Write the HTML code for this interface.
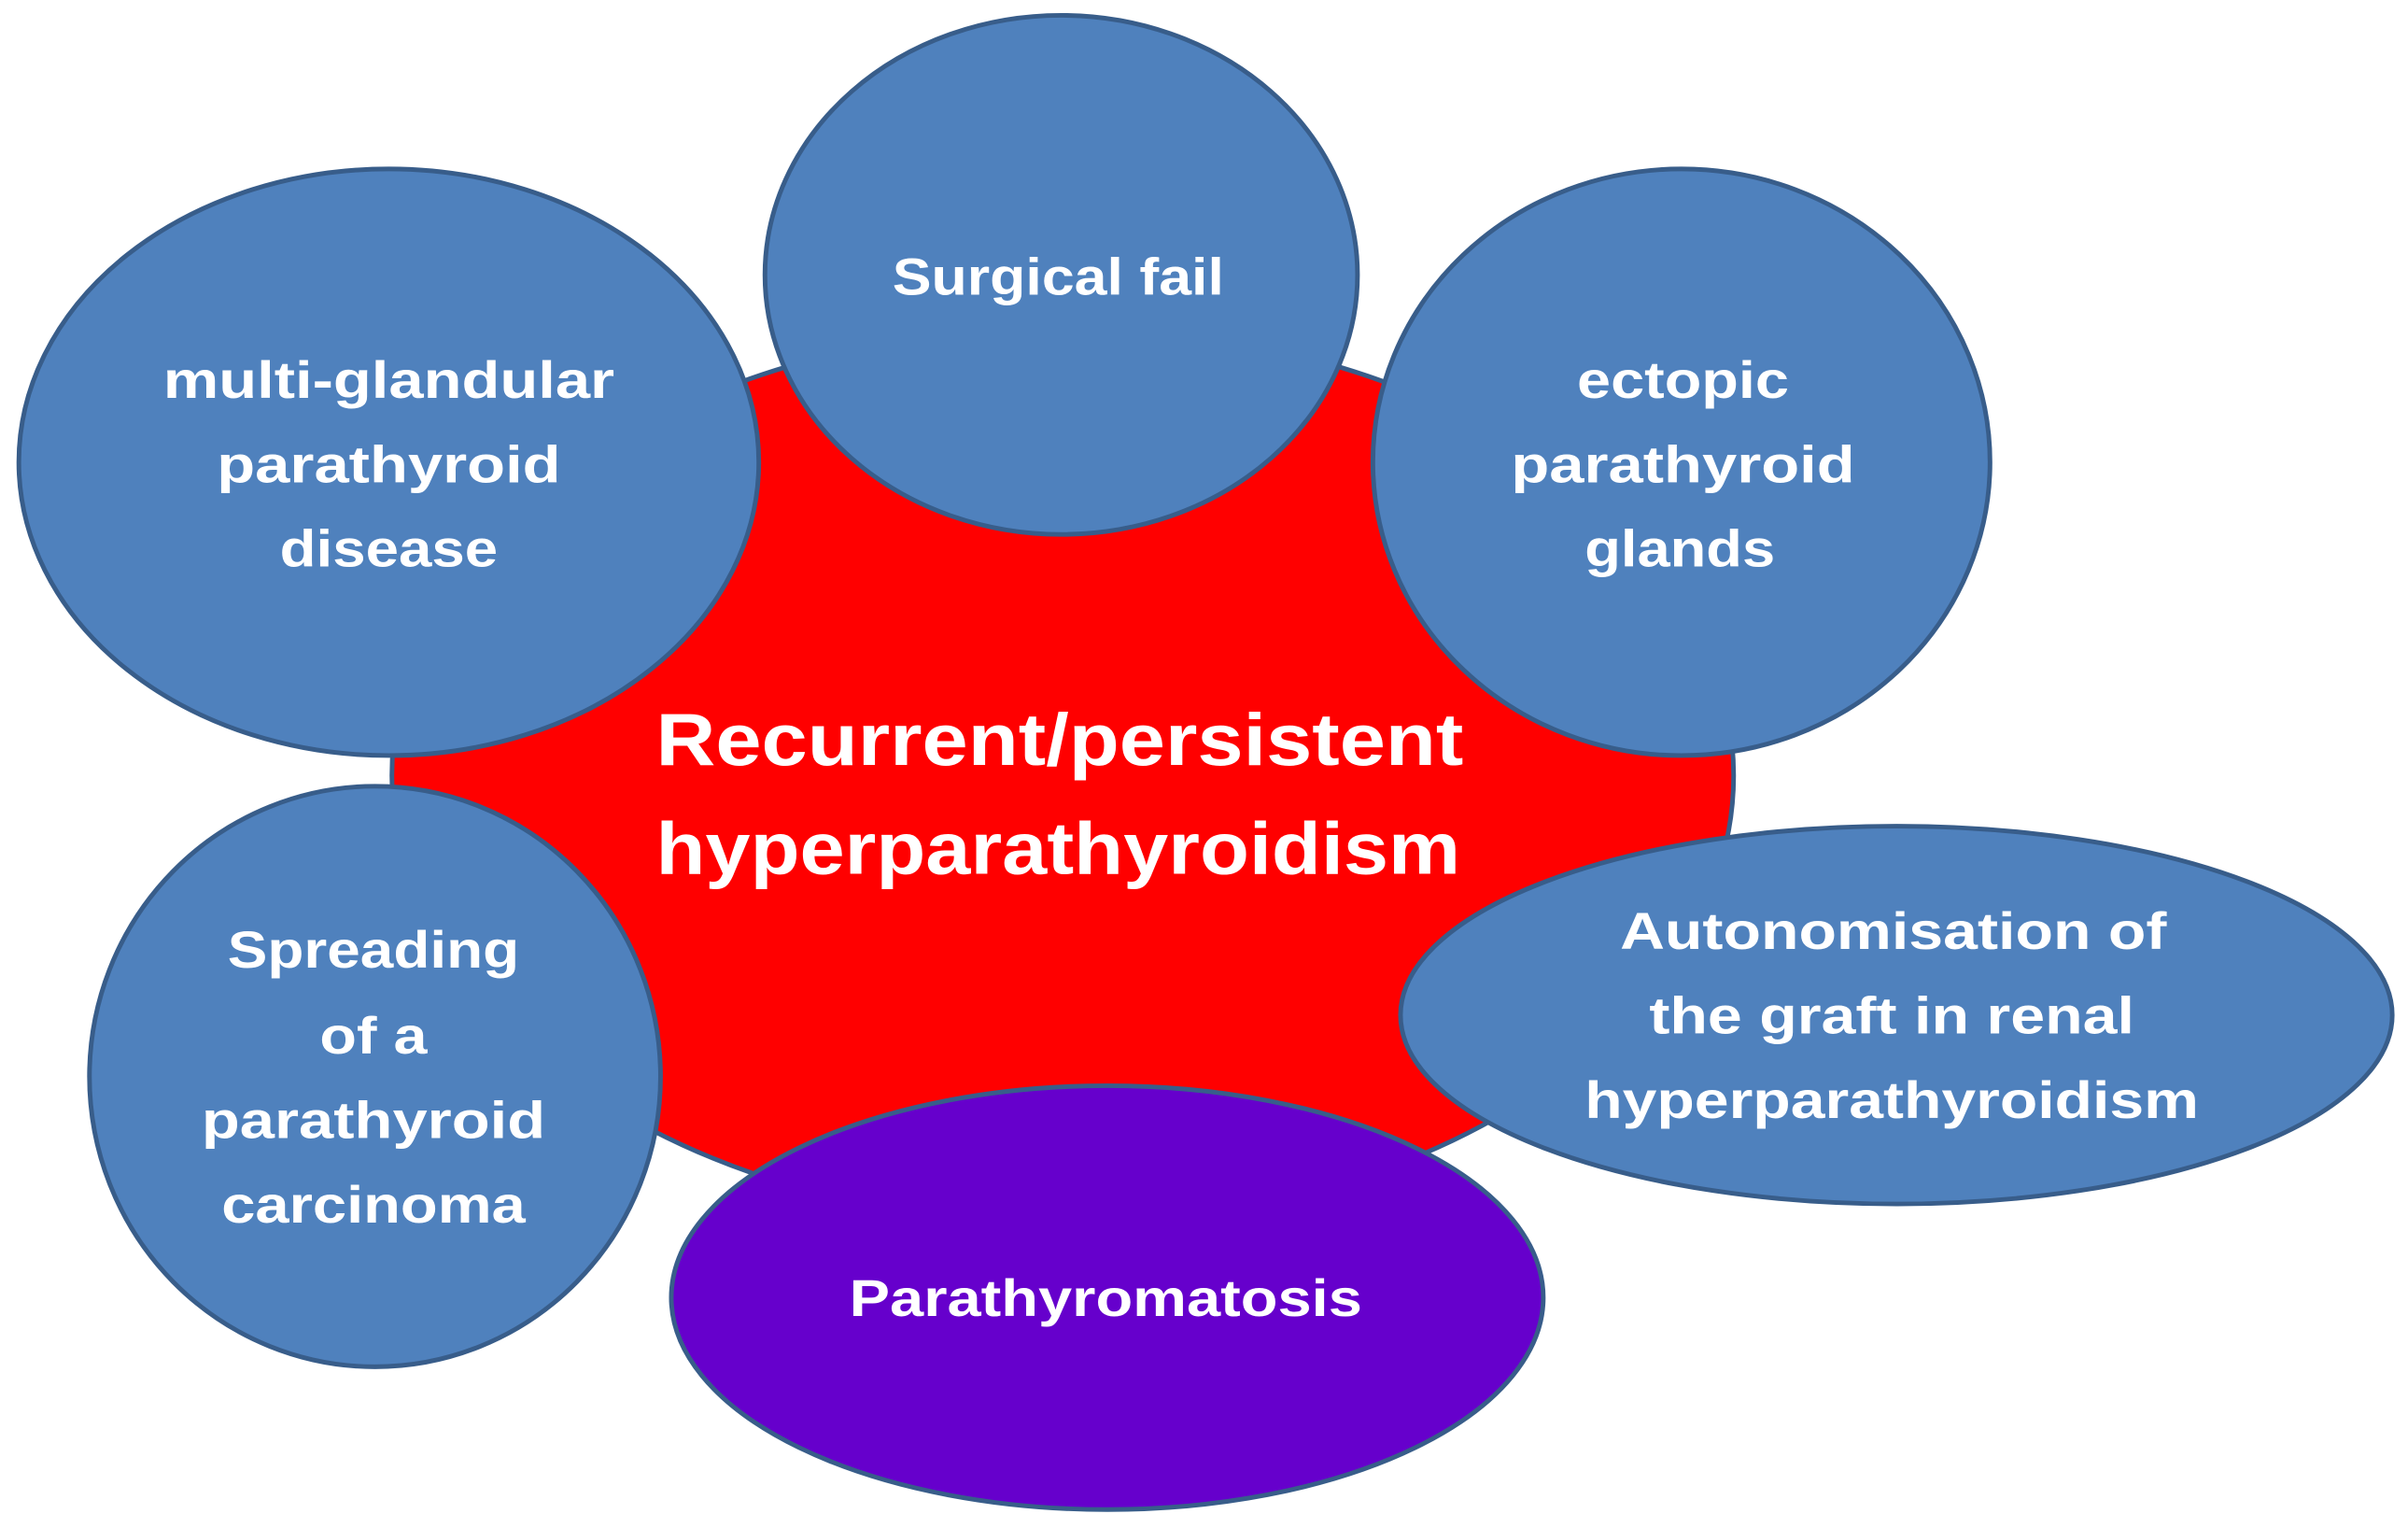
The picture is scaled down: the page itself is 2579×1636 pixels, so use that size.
<!DOCTYPE html>
<html><head><meta charset="utf-8"><style>
html,body{margin:0;padding:0;background:#fff;}
svg{display:block;}
text{font-family:"Liberation Sans",sans-serif;font-weight:bold;fill:#fff;text-anchor:middle;}
</style></head><body>
<svg width="2579" height="1636" viewBox="0 0 1568 995" xmlns="http://www.w3.org/2000/svg">
<rect width="1568" height="995" fill="#fff"/>
<ellipse cx="692" cy="505" rx="437" ry="292" fill="#ff0000" stroke="#385d8a" stroke-width="3"/>
<g fill="#4f81bd" stroke="#385d8a" stroke-width="3">
<ellipse cx="691" cy="179" rx="193" ry="169"/>
<ellipse cx="253" cy="301" rx="241" ry="191"/>
<ellipse cx="1095" cy="301" rx="201" ry="191"/>
<ellipse cx="244" cy="701" rx="186" ry="189"/>
<ellipse cx="1235" cy="661" rx="323" ry="123"/>
</g>
<ellipse cx="721" cy="845" rx="284" ry="138" fill="#6600cc" stroke="#385d8a" stroke-width="3"/>
<g font-size="34" style="font-size:34px">
<text x="689" y="192" textLength="216" lengthAdjust="spacingAndGlyphs">Surgical fail</text>
<text x="253" y="259" textLength="294" lengthAdjust="spacingAndGlyphs">multi-glandular</text>
<text x="253" y="314" textLength="224" lengthAdjust="spacingAndGlyphs">parathyroid</text>
<text x="253" y="369" textLength="142" lengthAdjust="spacingAndGlyphs">disease</text>
<text x="1096" y="259" textLength="138" lengthAdjust="spacingAndGlyphs">ectopic</text>
<text x="1096" y="314" textLength="224" lengthAdjust="spacingAndGlyphs">parathyroid</text>
<text x="1094" y="369" textLength="124" lengthAdjust="spacingAndGlyphs">glands</text>
<text x="243" y="630" textLength="190" lengthAdjust="spacingAndGlyphs">Spreading</text>
<text x="243" y="686" textLength="70" lengthAdjust="spacingAndGlyphs">of a</text>
<text x="243" y="741" textLength="224" lengthAdjust="spacingAndGlyphs">parathyroid</text>
<text x="243" y="796" textLength="198" lengthAdjust="spacingAndGlyphs">carcinoma</text>
<text x="1233" y="618" textLength="356" lengthAdjust="spacingAndGlyphs">Autonomisation of</text>
<text x="1232" y="673" textLength="316" lengthAdjust="spacingAndGlyphs">the graft in renal</text>
<text x="1232" y="728" textLength="400" lengthAdjust="spacingAndGlyphs">hyperparathyroidism</text>
</g>
<text x="720" y="857" style="font-size:34px" textLength="334" lengthAdjust="spacingAndGlyphs">Parathyromatosis</text>
<text x="690" y="498" style="font-size:48px" textLength="526" lengthAdjust="spacingAndGlyphs">Recurrent/persistent</text>
<text x="689" y="569" style="font-size:48px" textLength="524" lengthAdjust="spacingAndGlyphs">hyperparathyroidism</text>
</svg>
</body></html>
